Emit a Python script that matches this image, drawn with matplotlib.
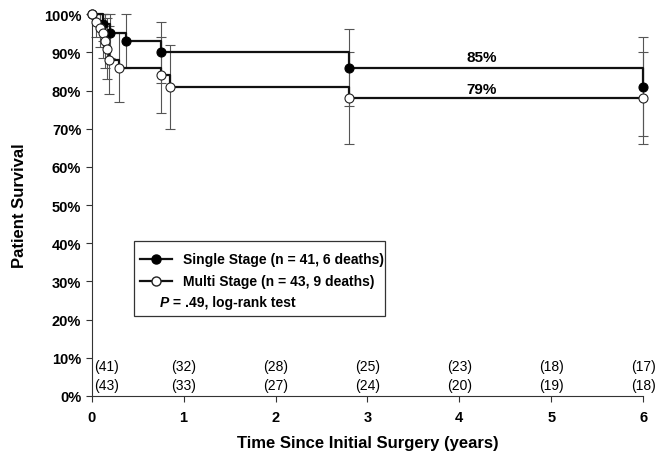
import numpy as np
import matplotlib
matplotlib.use("Agg")
import matplotlib.pyplot as plt
from matplotlib.patches import Rectangle

plt.rcParams['font.family'] = ['Liberation Sans', 'DejaVu Sans']

# Kaplan-Meier points (years, % survival)
single_t = [0, 0.12, 0.2, 0.375, 0.75, 2.8, 6.0]
single_s = [100, 97.5, 95, 93, 90, 86, 81]
single_lo = [0, 4.5, 6.5, 7, 8, 10, 13]
single_hi = [0, 2.5, 5, 7, 8, 10, 13]

multi_t = [0, 0.05, 0.09, 0.12, 0.15, 0.17, 0.19, 0.30, 0.75, 0.85, 2.8, 6.0]
multi_s = [100, 98, 96.5, 95, 93, 91, 88, 86, 84, 81, 78, 78]
multi_lo = [0, 4, 5, 6.5, 7, 8, 9, 9, 10, 11, 12, 12]
multi_hi = [0, 2, 3.5, 5, 7, 8, 9, 9, 10, 11, 12, 12]

risk_years = [0, 1, 2, 3, 4, 5, 6]
risk_single = [41, 32, 28, 25, 23, 18, 17]
risk_multi = [43, 33, 27, 24, 20, 19, 18]

fig = plt.figure(figsize=(6.55, 4.6), dpi=100)
ax = fig.add_axes([0.140, 0.137, 0.842, 0.830])

# error bars (thin grey)
ax.errorbar(single_t, single_s, yerr=[single_lo, single_hi], fmt='none',
            ecolor='#555555', elinewidth=0.8, capsize=3.5, capthick=0.8,
            zorder=2, clip_on=False)
ax.errorbar(multi_t, multi_s, yerr=[multi_lo, multi_hi], fmt='none',
            ecolor='#555555', elinewidth=0.8, capsize=3.5, capthick=0.8,
            zorder=2, clip_on=False)

# step curves
ax.step(single_t, single_s, where='post', color='#111111', lw=1.6, zorder=3,
        clip_on=False)
ax.step(multi_t, multi_s, where='post', color='#111111', lw=1.6, zorder=3,
        clip_on=False)
ax.plot(single_t, single_s, 'o', ms=6.5, mfc='black', mec='black', mew=0.8,
        zorder=4, clip_on=False)
ax.plot(multi_t, multi_s, 'o', ms=6.5, mfc='white', mec='#222222', mew=0.8,
        zorder=5, clip_on=False)

ax.text(4.24, 88.9, '85%', ha='center', va='center', fontsize=11,
        fontweight='bold')
ax.text(4.24, 80.5, '79%', ha='center', va='center', fontsize=11,
        fontweight='bold')

# numbers at risk
for yr, a, b in zip(risk_years, risk_single, risk_multi):
    ha = 'left' if yr == 0 else 'center'
    x = 0.03 if yr == 0 else yr
    ax.text(x, 7.9, '(%d)' % a, ha=ha, va='center', fontsize=10)
    ax.text(x, 2.9, '(%d)' % b, ha=ha, va='center', fontsize=10)

# legend box drawn by hand
ax.add_patch(Rectangle((0.077, 0.209), 0.455, 0.197, transform=ax.transAxes,
                       fill=False, ec='#333333', lw=0.9, zorder=6))
ax.plot([0.088, 0.145], [0.359, 0.359], '-', color='#111111', lw=1.6,
        transform=ax.transAxes, zorder=6)
ax.plot([0.1165], [0.359], 'o', ms=6.5, mfc='black', mec='black',
        transform=ax.transAxes, zorder=7)
ax.plot([0.088, 0.145], [0.302, 0.302], '-', color='#111111', lw=1.6,
        transform=ax.transAxes, zorder=6)
ax.plot([0.1165], [0.302], 'o', ms=6.5, mfc='white', mec='#222222',
        transform=ax.transAxes, zorder=7)
ax.text(0.165, 0.359, 'Single Stage (n = 41, 6 deaths)', transform=ax.transAxes,
        va='center', fontsize=10, fontweight='bold')
ax.text(0.165, 0.302, 'Multi Stage (n = 43, 9 deaths)', transform=ax.transAxes,
        va='center', fontsize=10, fontweight='bold')
tp = ax.text(0.124, 0.247, 'P', transform=ax.transAxes, va='center',
             fontsize=10, fontweight='bold', style='italic')
ax.annotate(' = .49, log-rank test', xy=(1, 0), xycoords=tp, va='bottom',
            fontsize=10, fontweight='bold')

ax.set_xlim(0, 6)
ax.set_ylim(0, 100)
ax.set_xticks(range(7))
ax.set_yticks(range(0, 101, 10))
ax.set_yticklabels(['%d%%' % v for v in range(0, 101, 10)])
ax.tick_params(direction='out', length=4, width=0.8, color='#333333',
               labelsize=10.5)
for lab in ax.get_xticklabels() + ax.get_yticklabels():
    lab.set_fontweight('bold')
ax.tick_params(axis='x', pad=6)
for side in ['top', 'right']:
    ax.spines[side].set_visible(False)
for side in ['left', 'bottom']:
    ax.spines[side].set_linewidth(0.8)
    ax.spines[side].set_color('#333333')

ax.set_xlabel('Time Since Initial Surgery (years)', fontsize=12,
              fontweight='bold', labelpad=8)
ax.set_ylabel('Patient Survival', fontsize=12, fontweight='bold', labelpad=12)

fig.savefig('out.png', dpi=100)
